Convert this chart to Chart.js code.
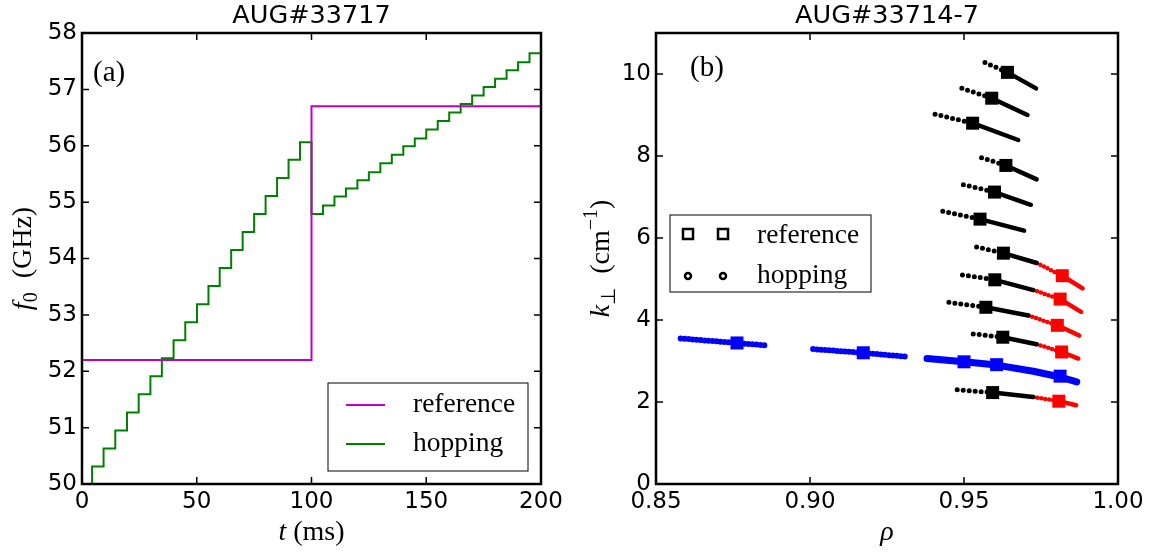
<!DOCTYPE html>
<html>
<head>
<meta charset="utf-8">
<script src="https://cdn.jsdelivr.net/npm/chart.js@4.4.0/dist/chart.umd.min.js"></script>
<style>
  body { margin: 0; background: #fff; }
  #wrap { position: relative; width: 1149px; height: 554px; }
  .box { position: absolute; top: 0; height: 554px; }
</style>
</head>
<body>
<div id="wrap">
  <div class="box" style="left:0;width:574px"><canvas id="left"></canvas></div>
  <div class="box" style="left:574px;width:575px"><canvas id="right"></canvas></div>
</div>
<script>
// ---- panel (a): frequency vs time ----
const refTimes = [0, 100, 200];
const refFreqs = [52.2, 56.7, 56.7];
const hopTimes = [0, 4.4, 9.4, 14.5, 19.6, 24.7, 29.8, 34.8, 39.9, 45, 50.1, 55.1, 60, 65, 70, 75, 80, 85, 90, 95,
  100, 105, 110, 115, 120, 125, 130, 135, 140, 145, 150, 155, 160, 165, 170, 175, 180, 185, 190, 195, 200];
const hopFreqs = [50, 50.31, 50.63, 50.95, 51.27, 51.59, 51.91, 52.23, 52.55, 52.87, 53.19, 53.51, 53.83, 54.15, 54.47, 54.79, 55.11, 55.43, 55.75, 56.06,
  54.79, 54.94, 55.10, 55.24, 55.39, 55.53, 55.69, 55.84, 55.99, 56.13, 56.29, 56.44, 56.59, 56.74, 56.89, 57.04, 57.19, 57.34, 57.48, 57.64, 57.64];
const tTicks = [0, 50, 100, 150, 200];
const fTicks = [50, 51, 52, 53, 54, 55, 56, 57, 58];

// ---- panel (b): k_perp vs rho ----
// black curves, top to bottom
const hopStartRho = [0.9568, 0.9493, 0.9406, 0.9557, 0.9498, 0.9431, 0.9541, 0.9495, 0.9451, 0.9530, 0.9478];
const hopStartK   = [10.28, 9.65, 9.02, 7.96, 7.30, 6.65, 5.78, 5.10, 4.43, 3.66, 2.30];
const refRho      = [0.9641, 0.9590, 0.9528, 0.9636, 0.9599, 0.9552, 0.9628, 0.9600, 0.9571, 0.9626, 0.9593];
const refK        = [10.04, 9.41, 8.80, 7.77, 7.12, 6.46, 5.63, 4.98, 4.31, 3.58, 2.23];
const blackEndRho = [0.9734, 0.9706, 0.9676, 0.9736, 0.9717, 0.9695, 0.9736, 0.9725, 0.9709, 0.9736, 0.9725];
const blackEndK   = [9.65, 9.00, 8.39, 7.43, 6.81, 6.18, 5.39, 4.73, 4.11, 3.41, 2.12];
// red continuation of the lower five curves
const redFrom   = [6, 7, 8, 9, 10];
const redRefRho = [0.9819, 0.9812, 0.9803, 0.9817, 0.9808];
const redRefK   = [5.08, 4.51, 3.87, 3.22, 2.02];
const redEndRho = [0.9885, 0.9880, 0.9874, 0.9871, 0.9864];
const redEndK   = [4.77, 4.20, 3.62, 3.06, 1.92];
// blue curve
const blueHop1Rho = [0.858, 0.876, 0.886];
const blueHop1K   = [3.55, 3.44, 3.38];
const blueHop2Rho = [0.901, 0.917, 0.932];
const blueHop2K   = [3.29, 3.20, 3.10];
const blueSolidRho = [0.938, 0.950, 0.9606, 0.9725, 0.9812, 0.9866];
const blueSolidK   = [3.06, 2.98, 2.90, 2.75, 2.61, 2.49];
const blueRefRho = [0.8763, 0.9173, 0.950, 0.9606, 0.9812];
const blueRefK   = [3.44, 3.20, 2.98, 2.91, 2.63];
const rhoTicks = [0.85, 0.90, 0.95, 1.00];
const kTicks = [0, 2, 4, 6, 8, 10];

Chart.defaults.font.family = '"DejaVu Sans"';
Chart.defaults.font.size = 23;
Chart.defaults.color = '#000';
Chart.defaults.animation = false;

const SERIF = '"Liberation Serif", serif';
const pts = (xs, ys) => xs.map((x, i) => ({ x: x, y: ys[i] }));

function richText(ctx, parts, size, x, y, rotate) {
  ctx.save();
  ctx.translate(x, y);
  if (rotate) ctx.rotate(-Math.PI / 2);
  const fontFor = p => (p.italic ? 'italic ' : '') + (p.small ? Math.round(size * 0.7) : size) + 'px ' + SERIF;
  let w = 0;
  parts.forEach(p => { ctx.font = fontFor(p); p.w = ctx.measureText(p.text).width; w += p.w; });
  let cx = -w / 2;
  ctx.textAlign = 'left';
  ctx.textBaseline = 'alphabetic';
  ctx.fillStyle = '#000';
  parts.forEach(p => { ctx.font = fontFor(p); ctx.fillText(p.text, cx, size * 0.32 + (p.dy || 0)); cx += p.w; });
  ctx.restore();
}

function panelPlugin(o) {
  return {
    id: 'panel',
    afterDraw(chart) {
      const ctx = chart.ctx, a = chart.chartArea;
      const xs = chart.scales.x, ys = chart.scales.y;
      ctx.save();
      ctx.strokeStyle = '#000';
      ctx.lineWidth = 1.5;
      ctx.beginPath();
      xs.ticks.forEach(t => {
        const px = xs.getPixelForValue(t.value);
        ctx.moveTo(px, a.bottom); ctx.lineTo(px, a.bottom - 7);
        ctx.moveTo(px, a.top); ctx.lineTo(px, a.top + 7);
      });
      ys.ticks.forEach(t => {
        const py = ys.getPixelForValue(t.value);
        ctx.moveTo(a.left, py); ctx.lineTo(a.left + 7, py);
        ctx.moveTo(a.right, py); ctx.lineTo(a.right - 7, py);
      });
      ctx.stroke();
      ctx.lineWidth = 2.5;
      ctx.strokeRect(a.left, a.top, a.right - a.left, a.bottom - a.top);

      ctx.fillStyle = '#000';
      ctx.font = '25.5px "DejaVu Sans"';
      ctx.textAlign = 'center';
      ctx.textBaseline = 'alphabetic';
      ctx.fillText(o.title, (a.left + a.right) / 2, 23);

      ctx.font = '29px ' + SERIF;
      ctx.textAlign = 'left';
      ctx.textBaseline = 'middle';
      ctx.fillText(o.letter, a.left + o.letterDx, o.letterY);

      richText(ctx, o.xLabel, 28, (a.left + a.right) / 2, 531, false);
      richText(ctx, o.yLabel, 28, o.yLabelX, (a.top + a.bottom) / 2, true);

      o.legend(ctx);
      ctx.restore();
    }
  };
}

function axis(min, max, tickVals, fmt, isY) {
  return {
    type: 'linear', min: min, max: max,
    grid: { display: false, drawTicks: false },
    border: { display: false },
    afterBuildTicks: s => { s.ticks = tickVals.map(v => ({ value: v })); },
    afterFit: s => { if (isY) s.width = 82; else s.height = 70; },
    ticks: { padding: isY ? 5 : 4, autoSkip: false, maxRotation: 0, callback: fmt }
  };
}

// ---- left chart ----
new Chart(document.getElementById('left'), {
  type: 'scatter',
  data: {
    datasets: [
      { label: 'reference', data: pts(refTimes, refFreqs), showLine: true, stepped: true,
        borderColor: '#bf00bf', borderWidth: 2, pointRadius: 0 },
      { label: 'hopping', data: pts(hopTimes, hopFreqs), showLine: true, stepped: true,
        borderColor: '#008000', borderWidth: 2, pointRadius: 0 }
    ]
  },
  options: {
    responsive: true, maintainAspectRatio: false,
    layout: { padding: { left: 0, right: 33, top: 33, bottom: 0 } },
    plugins: { legend: { display: false }, tooltip: { enabled: false } },
    scales: {
      x: axis(0, 200, tTicks, v => String(v), false),
      y: axis(50, 58, fTicks, v => String(v), true)
    }
  },
  plugins: [panelPlugin({
    title: 'AUG#33717', letter: '(a)', letterDx: 11, letterY: 73,
    xLabel: [{ text: 't', italic: true }, { text: ' (ms)' }],
    yLabel: [{ text: 'f', italic: true }, { text: '0', small: true, dy: 6 }, { text: '  (GHz)' }],
    yLabelX: 22,
    legend(ctx) {
      ctx.lineWidth = 1;
      ctx.strokeStyle = '#000';
      ctx.strokeRect(328, 383, 200, 88);
      ctx.lineWidth = 2;
      [['reference', '#bf00bf', 405], ['hopping', '#008000', 444]].forEach(([txt, col, y]) => {
        ctx.strokeStyle = col;
        ctx.beginPath(); ctx.moveTo(346, y); ctx.lineTo(385, y); ctx.stroke();
        ctx.fillStyle = '#000';
        ctx.font = '27.5px ' + SERIF;
        ctx.textBaseline = 'middle';
        ctx.fillText(txt, 413, y);
      });
    }
  })]
});

// ---- right chart ----
const blackDots = [];
const blackSolid = [];
refRho.forEach((r, i) => {
  blackDots.push({ x: hopStartRho[i], y: hopStartK[i] }, { x: r, y: refK[i] }, { x: r, y: null });
  blackSolid.push({ x: r, y: refK[i] }, { x: blackEndRho[i], y: blackEndK[i] }, { x: r, y: null });
});
const redDots = [];
const redSolid = [];
redFrom.forEach((i, j) => {
  redDots.push({ x: blackEndRho[i], y: blackEndK[i] }, { x: redRefRho[j], y: redRefK[j] }, { x: redRefRho[j], y: null });
  redSolid.push({ x: redRefRho[j], y: redRefK[j] }, { x: redEndRho[j], y: redEndK[j] }, { x: redRefRho[j], y: null });
});
const blueDots = pts(blueHop1Rho, blueHop1K).concat([{ x: 0.895, y: null }], pts(blueHop2Rho, blueHop2K));

const lineDs = (data, color, width, dash) => ({
  data: data, showLine: true, spanGaps: false, borderColor: color, borderWidth: width,
  borderDash: dash || [], borderCapStyle: 'round', borderJoinStyle: 'round', pointRadius: 0
});
const squareDs = (xs, ys, color) => ({
  data: pts(xs, ys), pointStyle: 'rect', pointRadius: 9.2, pointBorderWidth: 0,
  backgroundColor: color, borderColor: color
});

new Chart(document.getElementById('right'), {
  type: 'scatter',
  data: {
    datasets: [
      squareDs(refRho, refK, '#000000'),
      squareDs(redRefRho, redRefK, '#ff0000'),
      squareDs(blueRefRho, blueRefK, '#0000ff'),
      lineDs(blackSolid, '#000000', 4.5),
      lineDs(blackDots, '#000000', 5, [0, 6]),
      lineDs(redSolid, '#ff0000', 4.5),
      lineDs(redDots, '#ff0000', 4.5, [0, 4]),
      lineDs(pts(blueSolidRho, blueSolidK), '#0000ff', 7),
      lineDs(blueDots, '#0000ff', 6, [0, 4])
    ]
  },
  options: {
    responsive: true, maintainAspectRatio: false,
    layout: { padding: { left: 0, right: 31, top: 33, bottom: 0 } },
    plugins: { legend: { display: false }, tooltip: { enabled: false } },
    scales: {
      x: axis(0.85, 1.0, rhoTicks, v => v.toFixed(2), false),
      y: axis(0, 11, kTicks, v => String(v), true)
    }
  },
  plugins: [panelPlugin({
    title: 'AUG#33714-7', letter: '(b)', letterDx: 34, letterY: 68,
    xLabel: [{ text: '\u03c1', italic: true }],
    yLabel: [{ text: 'k', italic: true }, { text: '\u22a5', small: true, dy: 6 }, { text: '  (cm' },
             { text: '\u22121', small: true, dy: -12 }, { text: ')' }],
    yLabelX: 26,
    legend(ctx) {
      ctx.lineWidth = 1;
      ctx.strokeStyle = '#000';
      ctx.strokeRect(96, 215, 201, 77);
      ctx.lineWidth = 2.5;
      [114, 149].forEach(x => {
        ctx.strokeRect(x - 5, 229, 10, 10);
        ctx.beginPath(); ctx.arc(x, 276, 3, 0, Math.PI * 2); ctx.stroke();
      });
      ctx.fillStyle = '#000';
      ctx.font = '27.5px ' + SERIF;
      ctx.textBaseline = 'middle';
      ctx.fillText('reference', 183, 236);
      ctx.fillText('hopping', 183, 276);
    }
  })]
});
</script>
</body>
</html>
